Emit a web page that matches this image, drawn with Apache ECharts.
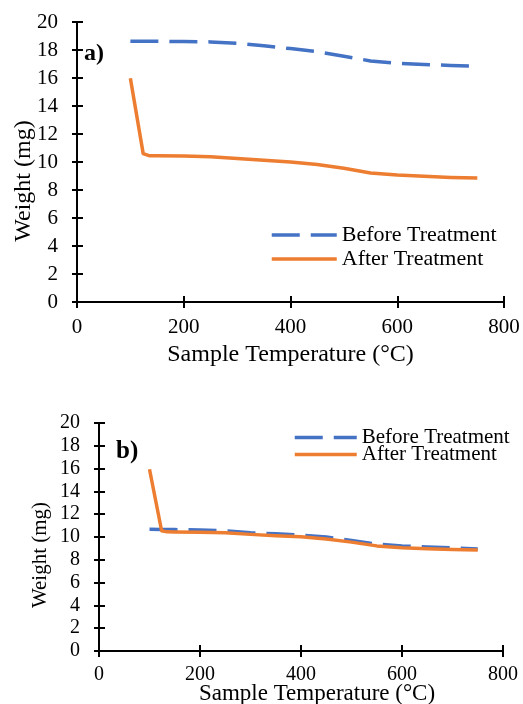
<!DOCTYPE html>
<html><head><meta charset="utf-8">
<script src="https://cdn.jsdelivr.net/npm/echarts@6/dist/echarts.min.js"></script>
<style>html,body{margin:0;padding:0;background:#fff}#c{width:523px;height:704px}</style>
</head><body><div id="c"></div>
<script>
var temps = [100, 124, 135, 150, 200, 250, 300, 350, 400, 450, 500, 550, 600, 650, 700, 750];
var beforeA = [18.62, 18.62, 18.62, 18.62, 18.6, 18.58, 18.48, 18.3, 18.1, 17.88, 17.55, 17.22, 17.05, 16.96, 16.9, 16.83];
var afterA  = [15.98, 10.6, 10.45, 10.44, 10.42, 10.38, 10.25, 10.13, 10.0, 9.82, 9.55, 9.22, 9.07, 8.98, 8.9, 8.85];
var beforeB = [10.67, 10.66, 10.66, 10.65, 10.62, 10.55, 10.38, 10.28, 10.17, 10.0, 9.7, 9.38, 9.22, 9.12, 9.05, 8.95];
var afterB  = [15.94, 10.55, 10.45, 10.44, 10.42, 10.37, 10.23, 10.12, 10.02, 9.82, 9.55, 9.22, 9.06, 8.97, 8.91, 8.86];
var xTicks = [0, 200, 400, 600, 800];
var yTicks = [0, 2, 4, 6, 8, 10, 12, 14, 16, 18, 20];
var seriesNames = ['Before Treatment', 'After Treatment'];
var panelLabels = ['a)', 'b)'];
var xTitle = 'Sample Temperature (°C)';
var yTitle = 'Weight (mg)';

function pairs(xs, ys){ return xs.map(function(x,i){ return [x, ys[i]]; }); }

var FONT = 'Liberation Serif';
var BLUE = '#4472C4', ORANGE = '#ED7D31';

function xAxes(gi, fs, margin, gap, nfs, npad){
  return [{
    gridIndex: gi, type: 'value', min: xTicks[0], max: xTicks[xTicks.length-1], interval: 200,
    position: 'bottom',
    axisLine: {show: true, onZero: false, lineStyle: {color: '#000', width: 2}},
    axisTick: {show: true, inside: false, length: 6, lineStyle: {color: '#000', width: 2}},
    axisLabel: {fontFamily: FONT, fontSize: fs, color: '#000', margin: margin},
    splitLine: {show: false},
    name: xTitle, nameLocation: 'middle', nameGap: gap, nameMoveOverlap: false,
    nameTextStyle: {fontFamily: FONT, fontSize: nfs, color: '#000', padding: npad}
  }, {
    gridIndex: gi, type: 'value', min: xTicks[0], max: xTicks[xTicks.length-1], interval: 200,
    position: 'bottom',
    axisLine: {show: false, onZero: false},
    axisTick: {show: true, inside: true, length: 6, lineStyle: {color: '#000', width: 2}},
    axisLabel: {show: false}, splitLine: {show: false}
  }];
}
function yAxes(gi, fs, margin, gap, nfs, npad){
  return [{
    gridIndex: gi, type: 'value', min: yTicks[0], max: yTicks[yTicks.length-1], interval: 2,
    position: 'left',
    axisLine: {show: true, onZero: false, lineStyle: {color: '#000', width: 2}},
    axisTick: {show: true, inside: false, length: 5, lineStyle: {color: '#000', width: 2}},
    axisLabel: {fontFamily: FONT, fontSize: fs, color: '#000', margin: margin},
    splitLine: {show: false},
    name: yTitle, nameLocation: 'middle', nameGap: gap, nameRotate: 90, nameMoveOverlap: false,
    nameTextStyle: {fontFamily: FONT, fontSize: nfs, color: '#000', padding: npad}
  }, {
    gridIndex: gi, type: 'value', min: yTicks[0], max: yTicks[yTicks.length-1], interval: 2,
    position: 'left',
    axisLine: {show: false, onZero: false},
    axisTick: {show: true, inside: true, length: 6, lineStyle: {color: '#000', width: 2}},
    axisLabel: {show: false}, splitLine: {show: false}
  }];
}
function line(name, data, xi, yi, color, dashed){
  return {
    name: name, type: 'line', xAxisIndex: xi, yAxisIndex: yi, data: data,
    symbol: 'none', smooth: false, silent: true,
    lineStyle: {color: color, width: 3.5, type: dashed ? [28, 11] : 'solid', cap: 'butt', join: 'round'},
    itemStyle: {color: color}
  };
}

var chart = echarts.init(document.getElementById('c'), null, {renderer: 'canvas'});
chart.setOption({
  animation: false,
  backgroundColor: '#fff',
  title: [
    {text: panelLabels[0], left: 79, top: 37, padding: 5, textStyle: {fontFamily: FONT, fontSize: 24, fontWeight: 'bold', color: '#000'}},
    {text: panelLabels[1], left: 111, top: 434, padding: 5, textStyle: {fontFamily: FONT, fontSize: 25, fontWeight: 'bold', color: '#000'}}
  ],
  grid: [
    {left: 77, top: 22, width: 427, height: 280, outerBoundsMode: 'none', containLabel: false},
    {left: 99, top: 423, width: 404, height: 228, outerBoundsMode: 'none', containLabel: false}
  ],
  legend: [
    {data: seriesNames, orient: 'vertical', left: 270, top: 224, padding: 0, itemWidth: 65, itemHeight: 14, itemGap: 2,
     itemStyle: {opacity: 0}, lineStyle: {width: 3.5},
     textStyle: {fontFamily: FONT, fontSize: 22, color: '#000', lineHeight: 22}, selectedMode: false},
    {data: seriesNames, orient: 'vertical', left: 293, top: 427, padding: 0, itemWidth: 62, itemHeight: 14, itemGap: -4,
     itemStyle: {opacity: 0}, lineStyle: {width: 3.5},
     textStyle: {fontFamily: FONT, fontSize: 21, color: '#000', lineHeight: 18}, selectedMode: false}
  ],
  xAxis: xAxes(0, 21, 15, 41, 24, [0, 0, 0, 0]).concat(xAxes(1, 20, 14, 31, 23, [0, 0, 0, 32])),
  yAxis: yAxes(0, 21, 19, 41, 24, [0, 38, 0, 0]).concat(yAxes(1, 20, 19, 48, 21, [0, 36, 0, 0])),
  series: [
    line(seriesNames[0], pairs(temps, beforeA), 0, 0, BLUE, true),
    line(seriesNames[1], pairs(temps, afterA), 0, 0, ORANGE, false),
    line(seriesNames[0], pairs(temps, beforeB), 2, 2, BLUE, true),
    line(seriesNames[1], pairs(temps, afterB), 2, 2, ORANGE, false)
  ]
});
</script></body></html>
